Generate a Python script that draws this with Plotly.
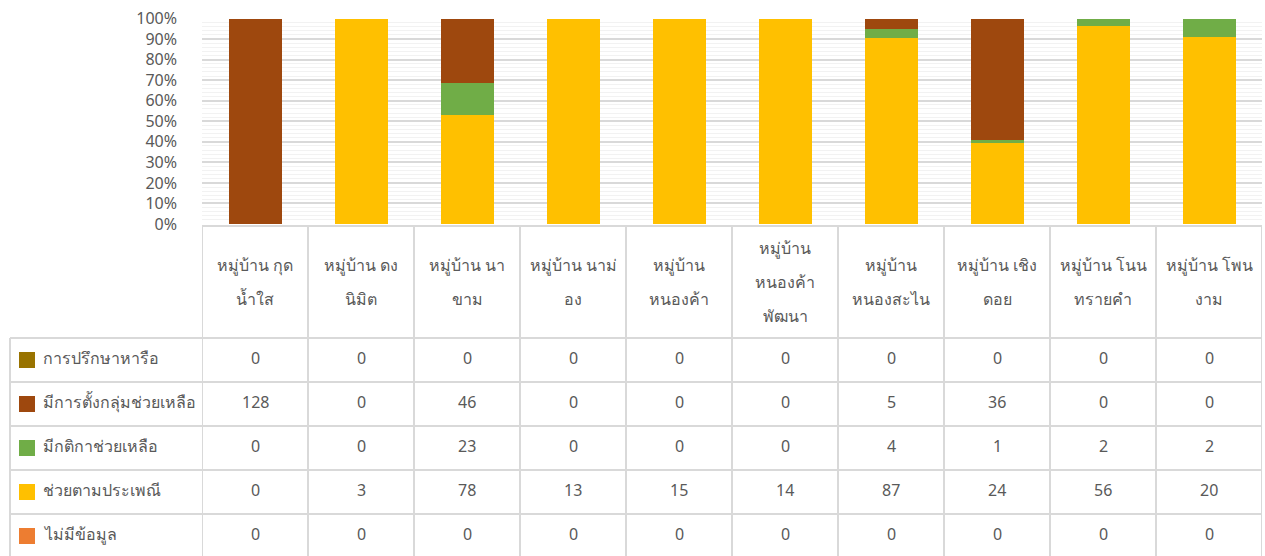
import plotly.graph_objects as go

W, H = 1265, 556

categories = ["หมู่บ้าน กุดน้ำใส", "หมู่บ้าน ดงนิมิต", "หมู่บ้าน นาขาม", "หมู่บ้าน นาม่อง",
              "หมู่บ้าน หนองค้า", "หมู่บ้าน หนองค้าพัฒนา", "หมู่บ้าน หนองสะไน",
              "หมู่บ้าน เชิงดอย", "หมู่บ้าน โนนทรายคำ", "หมู่บ้าน โพนงาม"]
header_labels = ["หมู่บ้าน กุด<br>น้ำใส", "หมู่บ้าน ดง<br>นิมิต", "หมู่บ้าน นา<br>ขาม",
                 "หมู่บ้าน นาม่<br>อง", "หมู่บ้าน<br>หนองค้า", "หมู่บ้าน<br>หนองค้า<br>พัฒนา",
                 "หมู่บ้าน<br>หนองสะไน", "หมู่บ้าน เชิง<br>ดอย", "หมู่บ้าน โนน<br>ทรายคำ",
                 "หมู่บ้าน โพน<br>งาม"]

consult = [0, 0, 0, 0, 0, 0, 0, 0, 0, 0]          # การปรึกษาหารือ
group_help = [128, 0, 46, 0, 0, 0, 5, 36, 0, 0]   # มีการตั้งกลุ่มช่วยเหลือ
rules_help = [0, 0, 23, 0, 0, 0, 4, 1, 2, 2]      # มีกติกาช่วยเหลือ
tradition = [0, 3, 78, 13, 15, 14, 87, 24, 56, 20]  # ช่วยตามประเพณี
no_data = [0, 0, 0, 0, 0, 0, 0, 0, 0, 0]          # ไม่มีข้อมูล

series_names = ["การปรึกษาหารือ", "มีการตั้งกลุ่มช่วยเหลือ", "มีกติกาช่วยเหลือ", "ช่วยตามประเพณี", "ไม่มีข้อมูล"]
series_values = [consult, group_help, rules_help, tradition, no_data]
series_colors = ["#997300", "#9E480E", "#70AD47", "#FFC000", "#ED7D31"]

FONT = "Noto Sans, DejaVu Sans, sans-serif"
TXT = "#595959"
LINE = "#D9D9D9"

x_idx = list(range(len(categories)))

fig = go.Figure()
# stack order bottom -> top: no data, tradition, rules, group, consult
for i in [4, 3, 2, 1, 0]:
    fig.add_trace(go.Bar(x=x_idx, y=series_values[i], name=series_names[i],
                         marker=dict(color=series_colors[i], line=dict(width=0)),
                         showlegend=False))

def px_x(p):
    return p / W

def px_y(p):
    return 1 - p / H

plot_left, plot_right = 202, 1262
y_top, y_bot = 18.5, 224

fig.update_layout(
    width=W, height=H, margin=dict(l=0, r=0, t=0, b=0, pad=0, autoexpand=False),
    paper_bgcolor="white", plot_bgcolor="white",
    barmode="stack", barnorm="percent", bargap=0.5,
    font=dict(family=FONT, color=TXT, size=16),
    xaxis=dict(domain=[px_x(plot_left), px_x(plot_right)], range=[-0.5, 9.5],
               showticklabels=False, showgrid=False, zeroline=False, fixedrange=True,
               automargin=False),
    yaxis=dict(domain=[px_y(y_bot), px_y(y_top)], range=[0, 100], dtick=10,
               ticksuffix="%", showgrid=True, gridcolor=LINE, gridwidth=1.5,
               zeroline=False, tickfont=dict(size=16, color=TXT),
               ticklabelstandoff=24, automargin=False,
               minor=dict(dtick=2, showgrid=True, gridcolor="#F2F2F2", gridwidth=1)),
)

shapes = []
# header top line
shapes.append(dict(type="line", xref="paper", yref="paper",
                   x0=px_x(plot_left), x1=px_x(plot_right), y0=px_y(226), y1=px_y(226),
                   line=dict(color=LINE, width=2)))
row_tops = [338, 382, 426, 470, 514]
for yy in row_tops:
    shapes.append(dict(type="line", xref="paper", yref="paper",
                       x0=px_x(10), x1=px_x(plot_right), y0=px_y(yy), y1=px_y(yy),
                       line=dict(color=LINE, width=2)))
# vertical lines
shapes.append(dict(type="line", xref="paper", yref="paper",
                   x0=px_x(10), x1=px_x(10), y0=px_y(338), y1=0,
                   line=dict(color=LINE, width=2)))
for k in range(len(categories) + 1):
    shapes.append(dict(type="line", xref="x", yref="paper",
                       x0=k - 0.5, x1=k - 0.5, y0=px_y(226), y1=0,
                       line=dict(color=LINE, width=2)))

annotations = []
# header labels, one annotation per line for Thai line spacing
header_mid = 282
line_gap = 34
for k, lab in enumerate(header_labels):
    parts = lab.split("<br>")
    n = len(parts)
    for j, part in enumerate(parts):
        yc = header_mid + (j - (n - 1) / 2) * line_gap
        annotations.append(dict(x=k, y=px_y(yc), xref="x", yref="paper", text=part,
                                showarrow=False, xanchor="center", yanchor="middle",
                                font=dict(size=16, color=TXT)))

row_centers = [360, 404, 448, 492, 536]
for r, (name, vals, col) in enumerate(zip(series_names, series_values, series_colors)):
    yc = row_centers[r]
    shapes.append(dict(type="rect", xref="paper", yref="paper",
                       x0=px_x(19), x1=px_x(35), y0=px_y(yc - 8), y1=px_y(yc + 8),
                       fillcolor=col, line=dict(width=0)))
    annotations.append(dict(x=px_x(41), y=px_y(yc - 2), xref="paper", yref="paper", text=name,
                            showarrow=False, xanchor="left", yanchor="middle",
                            font=dict(size=16, color=TXT)))
    for k, v in enumerate(vals):
        annotations.append(dict(x=k, y=px_y(yc - 2), xref="x", yref="paper", text=str(v),
                                showarrow=False, xanchor="center", yanchor="middle",
                                font=dict(size=16, color=TXT)))

fig.update_layout(shapes=shapes, annotations=annotations)
fig.write_html("out.html", config={"displayModeBar": False},
               post_script="document.body.style.margin='0';document.body.style.overflow='hidden';")
